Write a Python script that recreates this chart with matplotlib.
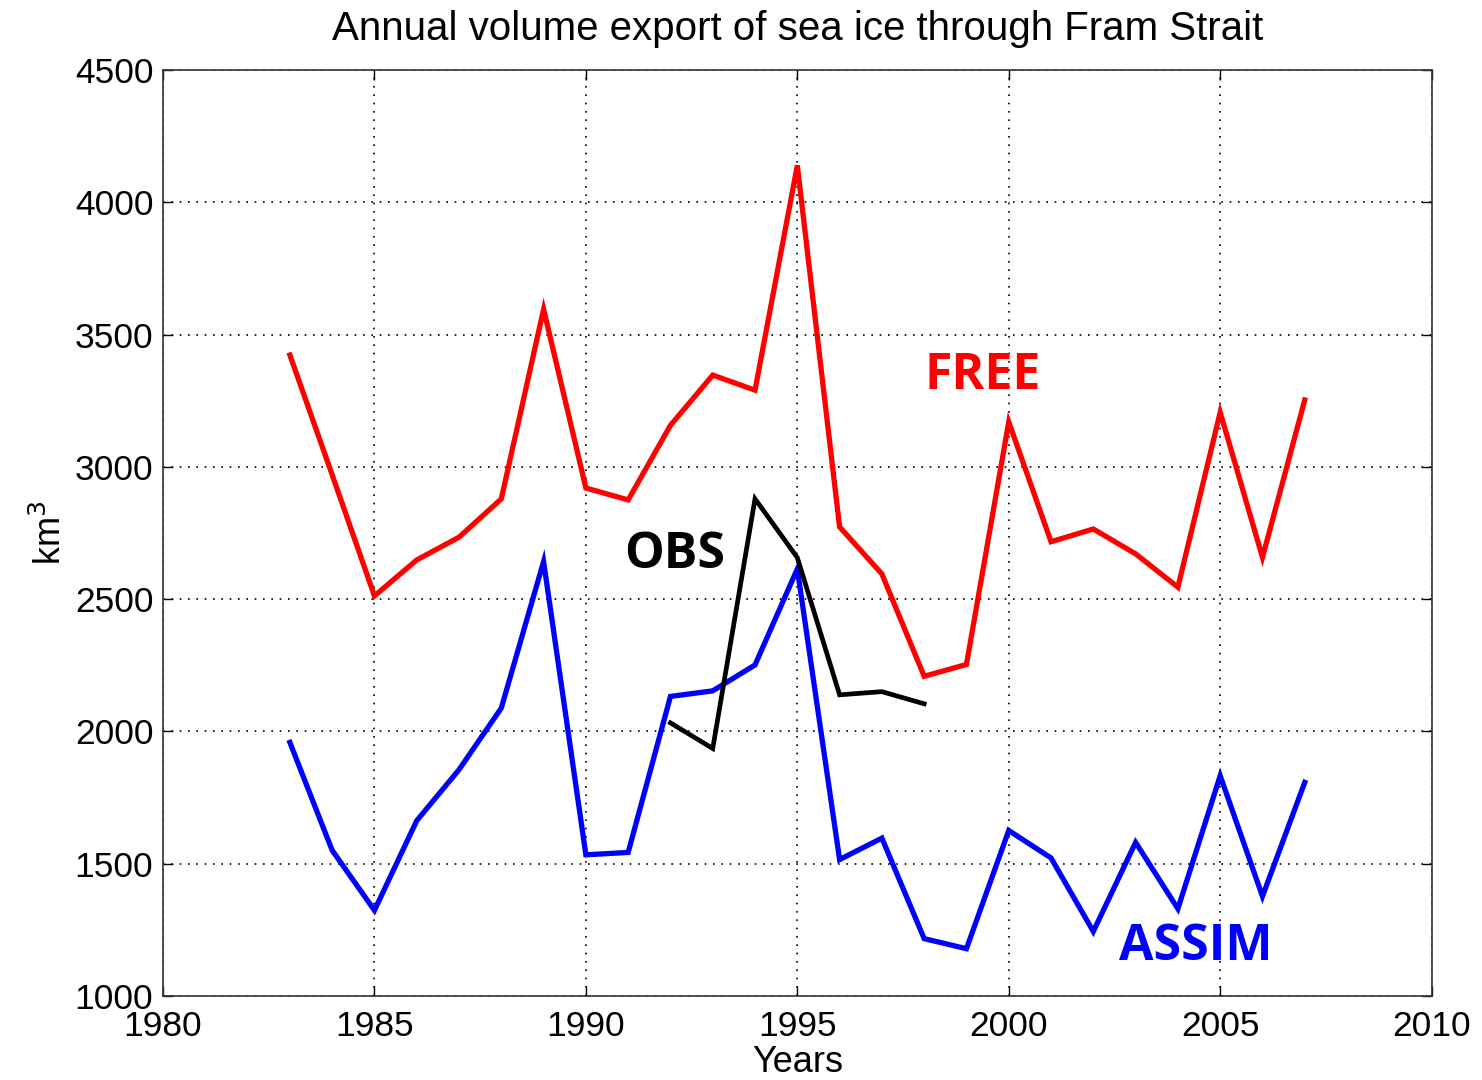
import numpy as np
import matplotlib.pyplot as plt

# Annual sea ice volume export through Fram Strait (km^3)
years = np.arange(1983, 2008)
free = [3423, 2970, 2512, 2648, 2734, 2879, 3596, 2920, 2875, 3157, 3347, 3290,
        4140, 2773, 2595, 2208, 2253, 3170, 2717, 2765, 2671, 2545, 3206, 2658, 3253]
assim = [1958, 1550, 1323, 1662, 1855, 2088, 2642, 1533, 1542, 2132, 2153, 2251,
         2614, 1515, 1596, 1216, 1178, 1625, 1521, 1243, 1580, 1329, 1832, 1376, 1807]
obs_years = np.arange(1992, 1999)
obs = [2032, 1935, 2879, 2657, 2138, 2150, 2104]

plt.rcParams['font.family'] = ['Liberation Sans', 'DejaVu Sans']

fig = plt.figure(figsize=(14.82, 10.8), dpi=100)
ax = fig.add_axes([0.110, 0.078, 0.856, 0.857])

ax.plot(years, free, color='#ff0000', lw=3.8, solid_joinstyle='miter')
ax.plot(years, assim, color='#0000ff', lw=3.8, solid_joinstyle='miter')
ax.plot(obs_years, obs, color='black', lw=3.4, solid_joinstyle='miter')

ax.set_xlim(1980, 2010)
ax.set_ylim(1000, 4500)
ax.set_xticks(np.arange(1980, 2011, 5))
ax.set_yticks(np.arange(1000, 4501, 500))
ax.grid(True, color='black', linestyle=(0, (1, 4)), lw=1.2)
ax.tick_params(direction='in', length=7, width=1, labelsize=25.5,
               top=True, right=True)
ax.tick_params(axis='x', pad=10)
ax.tick_params(axis='y', pad=7)
for s in ax.spines.values():
    s.set_color('#333333')
    s.set_linewidth(1.2)

ax.set_title('Annual volume export of sea ice through Fram Strait', fontsize=29, pad=22)
ax.set_xlabel('Years', fontsize=26, labelpad=2)
ax.set_ylabel('km$^3$', fontsize=26, labelpad=4)

lab = dict(fontsize=36, fontweight='bold', family=['Open Sans', 'DejaVu Sans'], va='center')
ax.text(1998.0, 3344, 'FREE', color='#ff0000', **lab)
ax.text(1990.9, 2667, 'OBS', color='black', **lab)
ax.text(2002.6, 1185, 'ASSIM', color='#0000ff', **lab)

fig.savefig('out.png', dpi=100)
